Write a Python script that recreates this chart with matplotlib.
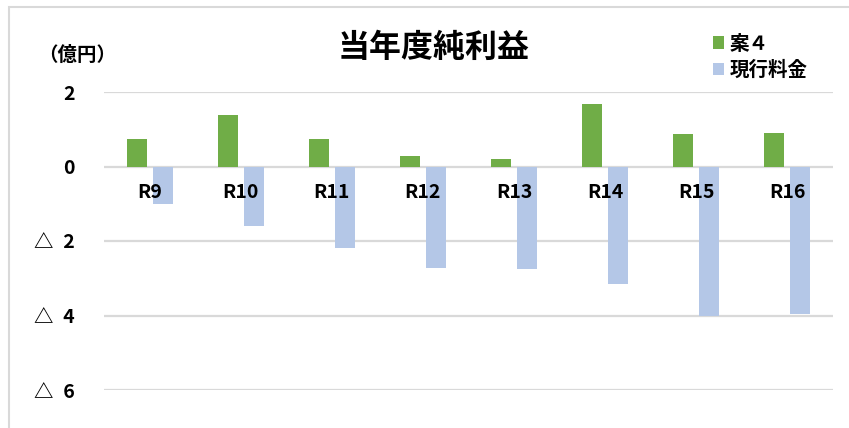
import numpy as np
import matplotlib.pyplot as plt
from matplotlib.patches import Rectangle

plt.rcParams['font.family'] = ['Noto Sans CJK JP', 'DejaVu Sans']

# data (億円)
years = ['R9', 'R10', 'R11', 'R12', 'R13', 'R14', 'R15', 'R16']
plan4 = [0.75, 1.37, 0.75, 0.27, 0.21, 1.69, 0.86, 0.91]
current = [-1.02, -1.61, -2.20, -2.73, -2.76, -3.16, -4.00, -3.97]
yticks = [2, 0, -2, -4, -6]

green = '#70ad47'
blue = '#b4c7e7'
grid = '#d9d9d9'

W, H = 849, 428
fig = plt.figure(figsize=(W / 100, H / 100), dpi=100)
ax = fig.add_axes([104 / W, 1 - 390 / H, (833 - 104) / W, (390 - 92) / H])

x = np.arange(len(years))
ax.bar(x - 0.143, plan4, width=0.22, color=green, label='案４', zorder=3)
ax.bar(x + 0.143, current, width=0.22, color=blue, label='現行料金', zorder=3)

ax.set_xlim(-0.5, len(years) - 0.5)
ax.set_ylim(-6, 2)
ax.set_yticks(yticks)
ax.set_yticklabels([str(v) if v >= 0 else '△\u2002' + str(-v) for v in yticks],
                   fontsize=14, fontweight='bold')
ax.tick_params(axis='y', length=0, pad=21)
ax.set_xticks([])
ax.grid(axis='y', color=grid, linewidth=1.6, zorder=0)
for s in ax.spines.values():
    s.set_visible(False)

for i, lab in enumerate(years):
    ax.annotate(lab, (i, 0), xytext=(0, -19), textcoords='offset points',
                ha='center', va='center', fontsize=14, fontweight='bold', zorder=4)

fig.text(434 / W, 1 - 48 / H, '当年度純利益', ha='center', va='center',
         fontsize=23, fontweight='bold')
fig.text(77 / W, 1 - 55 / H, '（億円）', ha='center', va='center',
         fontsize=14, fontweight='bold')

leg = fig.legend(loc='upper left', bbox_to_anchor=(695 / W, 1 - 17 / H),
                 frameon=False, handlelength=0.6, handleheight=0.6,
                 handletextpad=0.3, labelspacing=0.35,
                 prop={'size': 14, 'weight': 'bold'})

fig.patches.append(Rectangle((9 / W, -0.1), 1.2, 1.1 - 7 / H,
                             transform=fig.transFigure, fill=False,
                             edgecolor=grid, linewidth=1.5))

fig.savefig('out.png', dpi=100)
